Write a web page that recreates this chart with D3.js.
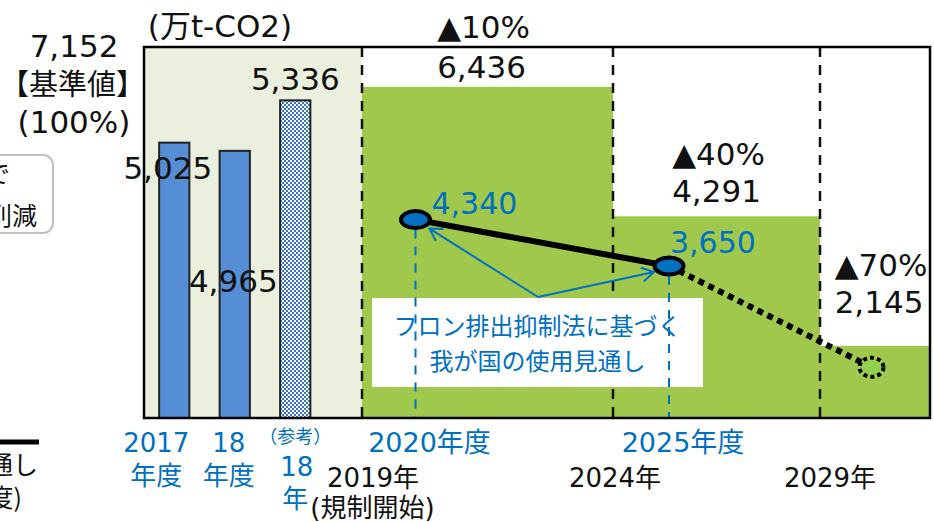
<!DOCTYPE html>
<html><head><meta charset="utf-8">
<script src="https://cdn.jsdelivr.net/npm/d3@7"></script>
<style>body{margin:0;background:#fff;} svg{display:block;font-family:"DejaVu Sans","Noto Sans CJK JP",sans-serif;}</style>
</head><body>
<script>
// ---------------- data ----------------
const histCategories = ["2017", "18", "ref18"];
const histValues = [5025, 4965, 5336];
const histLabels = ["5,025", "4,965", "5,336"];
const baselineValue = 7152;
const targetYears = [2019, 2024, 2029];
const targetEndYear = 2031.2;
const targetValues = [6436, 4291, 2145];
const targetCuts = ["▲10%", "▲40%", "▲70%"];
const targetYearLabels = ["2019年", "2024年", "2029年"];
const forecastYears = [2020, 2025, 2030];
const forecastValues = [4340, 3650, 2145];
const forecastYearLabels = ["2020年度", "2025年度"];
const fmt = d3.format(",");

// ---------------- layout ----------------
const W = 934, H = 522;
const L = 144, R = 930, T = 47, B = 418, split = 362;
const BLUE = "#0070C0", GREEN = "#A0C84C", BEIGE = "#EBF0DE", BAR = "#558ED5";

const svg = d3.select("body").append("svg").attr("width", W).attr("height", H);
const defs = svg.append("defs");
const pat = defs.append("pattern").attr("id", "check").attr("width", 4).attr("height", 4).attr("patternUnits", "userSpaceOnUse");
pat.append("rect").attr("width", 4).attr("height", 4).attr("fill", "#fff");
pat.append("rect").attr("width", 2).attr("height", 2).attr("fill", "#3A75C4");
pat.append("rect").attr("x", 2).attr("y", 2).attr("width", 2).attr("height", 2).attr("fill", "#3A75C4");
const mk = defs.append("marker").attr("id", "arr").attr("markerUnits", "userSpaceOnUse")
  .attr("markerWidth", 16).attr("markerHeight", 16).attr("refX", 14).attr("refY", 8).attr("orient", "auto");
mk.append("path").attr("d", "M2,1 L14,8 L2,15").attr("fill", "none").attr("stroke", BLUE).attr("stroke-width", 2);

// scales (schematic chart: each panel has its own value scale)
const xHist = d3.scaleBand().domain(histCategories).range([L, 325.5]).paddingInner(0.5).paddingOuter(0.25);
const yHist = d3.scaleLinear().domain([3002, 5728]).range([B, T]);
const xYear = d3.scaleLinear()
  .domain([2019, 2020, 2024, 2025, 2029, 2030, targetEndYear])
  .range([split, 415.5, 613, 669, 820, 871.5, R]);
const yTarget = d3.scaleLinear().domain([949, 7096]).range([B, T]);
const yFore = d3.scaleLinear().domain([1390, 6907]).range([B, T]);

// backgrounds
svg.append("rect").attr("x", L).attr("y", T).attr("width", split - L).attr("height", B - T).attr("fill", BEIGE);
const ends = targetYears.slice(1).concat([targetEndYear]);
svg.selectAll("rect.tg").data(targetValues).join("rect").attr("class", "tg")
  .attr("x", (d, i) => xYear(targetYears[i]))
  .attr("width", (d, i) => xYear(ends[i]) - xYear(targetYears[i]))
  .attr("y", d => yTarget(d)).attr("height", d => B - yTarget(d))
  .attr("fill", GREEN);

// black dashed period boundaries
svg.selectAll("line.bd").data(targetYears).join("line").attr("class", "bd")
  .attr("x1", d => xYear(d)).attr("x2", d => xYear(d)).attr("y1", T).attr("y2", B)
  .attr("stroke", "#111").attr("stroke-width", 2.5).attr("stroke-dasharray", "10,8");

// historical bars
svg.selectAll("rect.hb").data(histValues).join("rect").attr("class", "hb")
  .attr("x", (d, i) => xHist(histCategories[i])).attr("width", xHist.bandwidth())
  .attr("y", d => yHist(d)).attr("height", d => B - yHist(d))
  .attr("fill", (d, i) => i === 2 ? "url(#check)" : BAR)
  .attr("stroke", "#222").attr("stroke-width", 2);

// callout box
const box = {x: 372, y: 298, w: 331, h: 89};
svg.append("rect").attr("x", box.x).attr("y", box.y).attr("width", box.w).attr("height", box.h).attr("fill", "#fff");

// blue dashed lines from forecast points
svg.selectAll("line.fd").data(forecastValues.slice(0, 2)).join("line").attr("class", "fd")
  .attr("x1", (d, i) => xYear(forecastYears[i])).attr("x2", (d, i) => xYear(forecastYears[i]))
  .attr("y1", d => yFore(d) + 10).attr("y2", B)
  .attr("stroke", BLUE).attr("stroke-width", 2).attr("stroke-dasharray", "9,8");

// callout text
const cx = box.x + box.w / 2;
svg.append("text").attr("x", cx).attr("y", 335).attr("text-anchor", "middle").attr("fill", BLUE)
  .attr("font-family", "Noto Sans CJK JP").attr("font-size", 24).text("フロン排出抑制法に基づく");
svg.append("text").attr("x", cx).attr("y", 370).attr("text-anchor", "middle").attr("fill", BLUE)
  .attr("font-family", "Noto Sans CJK JP").attr("font-size", 24).text("我が国の使用見通し");

// arrows
const ax = 538, ay = box.y - 1;
const arrowEnds = [[14, 9], [-15, 6]];
svg.selectAll("line.ar").data(forecastValues.slice(0, 2)).join("line").attr("class", "ar")
  .attr("x1", ax).attr("y1", ay)
  .attr("x2", (d, i) => xYear(forecastYears[i]) + arrowEnds[i][0])
  .attr("y2", (d, i) => yFore(d) + arrowEnds[i][1])
  .attr("stroke", BLUE).attr("stroke-width", 2).attr("marker-end", "url(#arr)");

// forecast line
const pts = forecastValues.map((v, i) => [xYear(forecastYears[i]), yFore(v)]);
svg.append("path").attr("d", d3.line()(pts.slice(0, 2))).attr("stroke", "#000").attr("stroke-width", 6).attr("fill", "none");
svg.append("path").attr("d", d3.line()(pts.slice(1))).attr("stroke", "#000").attr("stroke-width", 6)
  .attr("stroke-dasharray", "6,5").attr("fill", "none");
svg.selectAll("ellipse.fp").data(pts).join("ellipse").attr("class", "fp")
  .attr("cx", d => d[0]).attr("cy", d => d[1])
  .attr("rx", (d, i) => i === 2 ? 12 : 14.5).attr("ry", (d, i) => i === 2 ? 9.5 : 8.5)
  .attr("fill", (d, i) => i === 2 ? "#92D050" : BLUE)
  .attr("stroke", "#000").attr("stroke-width", 4)
  .attr("stroke-dasharray", (d, i) => i === 2 ? "4,3" : null);

// frame
svg.append("rect").attr("x", L).attr("y", T).attr("width", R - L).attr("height", B - T)
  .attr("fill", "none").attr("stroke", "#000").attr("stroke-width", 2.5);

// ---------- texts ----------
function txt(x, y, s, size, fill, anchor, fam) {
  const t = svg.append("text").attr("x", x).attr("y", y).attr("font-size", size)
    .attr("fill", fill || "#000").attr("text-anchor", anchor || "middle").text(s);
  if (fam) t.attr("font-family", fam);
  return t;
}
// unit
txt(220, 37, "(万t-CO2)", 31, "#111");
// baseline
txt(74, 57, fmt(baselineValue), 31, "#111");
txt(72.5, 95, "【基準値】", 29, "#111", "middle", "Noto Sans CJK JP");
txt(74, 133, "(100%)", 31, "#111");

// hist labels
const histLabelDx = [-6.5, -1.5, 0], histLabelDy = [36, 141, -10];
histValues.forEach((v, i) => {
  txt(xHist(histCategories[i]) + xHist.bandwidth() / 2 + histLabelDx[i], yHist(v) + histLabelDy[i], histLabels[i], 31, "#111");
});

// target labels
const tgDy = [6, 20, 30];
targetValues.forEach((v, i) => {
  const c = (xYear(targetYears[i]) + xYear(ends[i])) / 2 + (i === 0 ? -6 : (i === 2 ? 4 : 0));
  const yb = yTarget(v) - tgDy[i] + (i === 0 ? -3 : (i === 1 ? 6 : -3));
  txt(c, yb, fmt(v), 31, "#111");
  txt(c + 2, yb - (i === 0 ? 40 : 37), targetCuts[i], 31, "#111");
});

// forecast value labels
const fdx = [16, 1], fdy = [-6, -13];
forecastValues.slice(0, 2).forEach((v, i) => {
  txt(xYear(forecastYears[i]) + fdx[i], yFore(v) + fdy[i], fmt(v), 30, BLUE, "start");
});

// bottom: historical category labels
const hc = histCategories.map(c => xHist(c) + xHist.bandwidth() / 2);
txt(hc[0] - 18, 452, "2017", 26, BLUE);
txt(hc[0] - 18, 485, "年度", 26, BLUE, "middle", "Noto Sans CJK JP");
txt(hc[1] - 6, 452, "18", 26, BLUE);
txt(hc[1] - 6, 485, "年度", 26, BLUE, "middle", "Noto Sans CJK JP");
txt(hc[2], 443, "（参考）", 18, BLUE, "middle", "Noto Sans CJK JP");
txt(hc[2] + 1.5, 476, "18", 26, BLUE);
txt(hc[2], 508, "年", 26, BLUE, "middle", "Noto Sans CJK JP");

// forecast year labels
forecastYearLabels.forEach((s, i) => txt(xYear(forecastYears[i]) + 14, 452, s, 27, BLUE));
// target year labels
const tyDx = [11, 2, 10];
targetYearLabels.forEach((s, i) => txt(xYear(targetYears[i]) + tyDx[i], 487, s, 26, "#111"));
txt(xYear(targetYears[0]) + 10.5, 517, "(規制開始)", 26, "#111");

// left partial box
svg.append("rect").attr("x", -60).attr("y", 155).attr("width", 113).attr("height", 78).attr("rx", 10)
  .attr("fill", "#fff").attr("stroke", "#BFBFBF").attr("stroke-width", 2);
txt(10, 183, "キガリ改正で", 25, "#111", "end", "Noto Sans CJK JP");
txt(37, 225, "85%削減", 25, "#111", "end", "Noto Sans CJK JP");

// left partial legend
svg.append("line").attr("x1", -5).attr("x2", 39).attr("y1", 442).attr("y2", 442).attr("stroke", "#000").attr("stroke-width", 5);
txt(38, 474, "我が国の使用見通し", 25, "#111", "end", "Noto Sans CJK JP");
txt(22, 507, "(2020年度)", 25, "#111", "end", "Noto Sans CJK JP");
</script>
</body></html>
